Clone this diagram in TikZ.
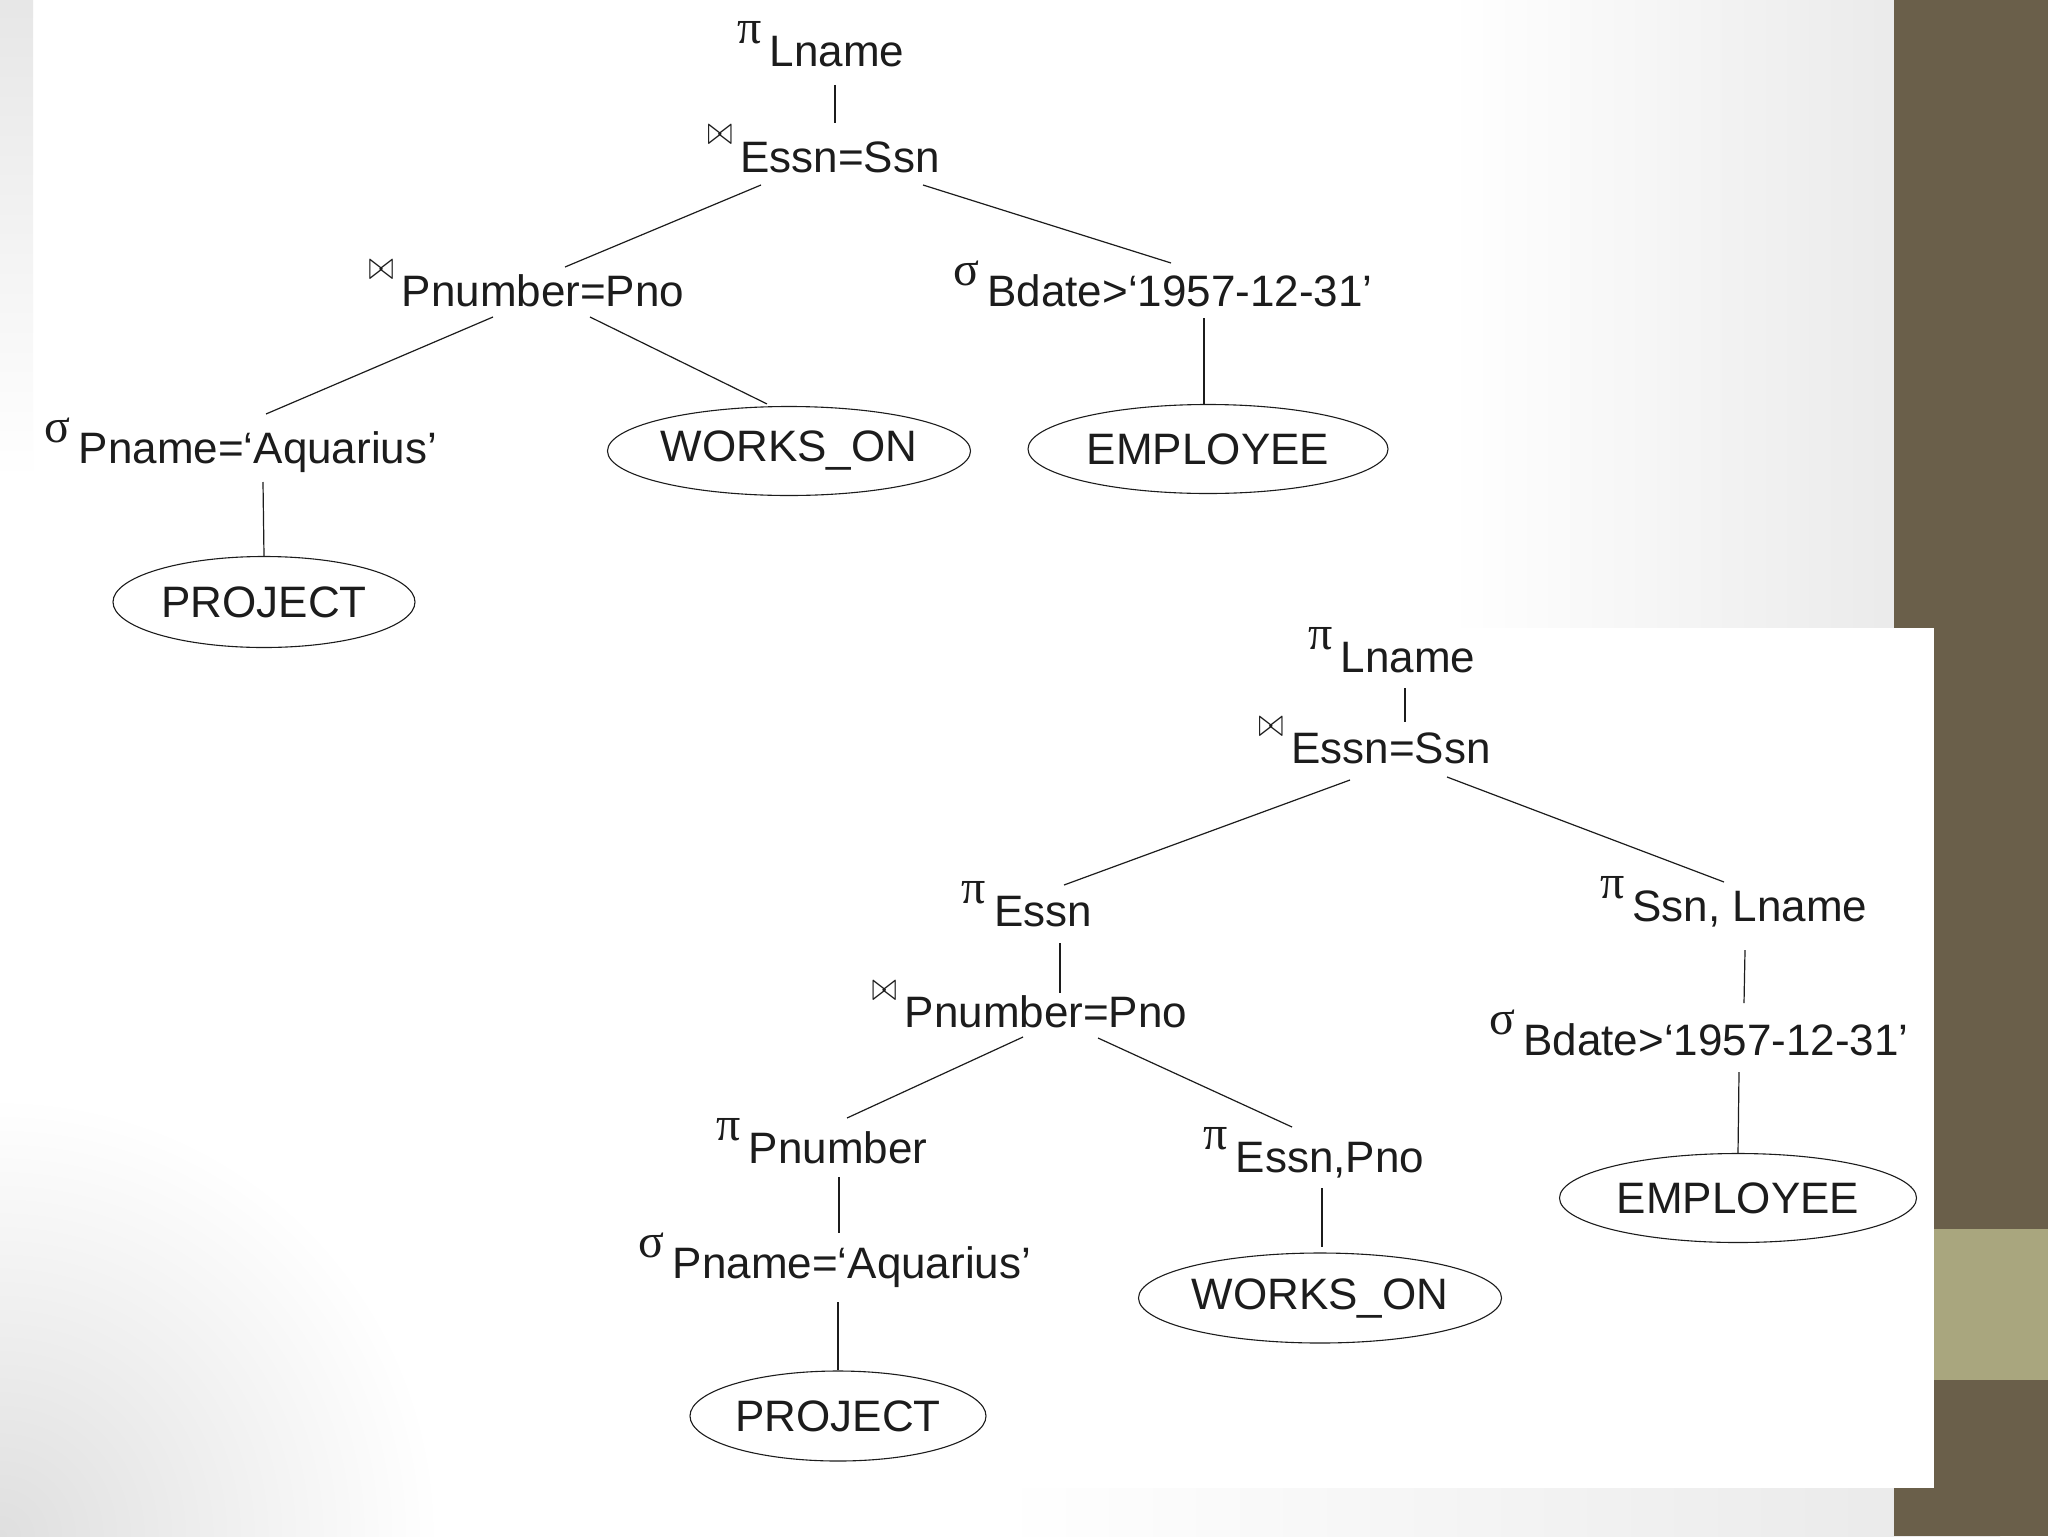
\documentclass[tikz,border=0pt]{standalone}
\usepackage{fontspec}
\usepackage{graphicx}
\setmainfont{Liberation Sans}
\newfontfamily\grk{Liberation Serif}
\usetikzlibrary{shapes.geometric,calc}
\definecolor{ink}{HTML}{1C1C1C}
\definecolor{bggray}{HTML}{DFDFDF}
\definecolor{bglight}{HTML}{E8E8E8}
\definecolor{olivebar}{HTML}{6A5F4A}
\definecolor{khakibar}{HTML}{A9A67E}
\newcommand\opP{\llap{\raisebox{11.5pt}{\grk\fontsize{24}{24}\selectfont π}\hspace{4pt}}}
\newcommand\opS{\llap{\raisebox{10.5pt}{\grk\fontsize{24}{24}\selectfont σ}\hspace{4pt}}}
\newcommand\opJ{\llap{\raisebox{13.5pt}{\resizebox*{12.5pt}{9.5pt}{$\bowtie$}}\hspace{4pt}}}
\begin{document}
\begin{tikzpicture}[x=0.5pt,y=-0.5pt,
  lbl/.style={anchor=base, inner sep=0pt, font=\fontsize{22}{26}\selectfont, text=ink},
  rel/.style={ellipse, draw=ink, line width=0.55pt, inner sep=0pt, fill=white,
    font=\fontsize{22}{26}\selectfont, text=ink},
  edge/.style={draw=ink, line width=0.6pt}]
\useasboundingbox (0,0) rectangle (2048,1536);
% background
\fill[white] (0,0) rectangle (1894,1536);
\shade[top color=bggray, bottom color=white] (0,-150) rectangle (33,480);
\shade[left color=white, right color=bglight] (1450,0) rectangle (1950,628);
\begin{scope}
  \clip (0,0) rectangle (1894,1536);
  \shade[inner color=bggray, outer color=white] (0,1536) circle (440);
\end{scope}
\shade[left color=white, right color=bglight] (1000,1488) rectangle (2000,1536);
\fill[olivebar] (1894,0) rectangle (2048,1536);
\fill[khakibar] (1894,1229) rectangle (2048,1380);
\fill[white] (650,628) rectangle (1934,1488);

% ---------- top tree ----------
\node[lbl] (r1) at (837,67) {\opP Lname};
\node[lbl] (j1) at (840,172) {\opJ Essn=Ssn};
\node[lbl] (j2) at (543,306) {\opJ Pnumber=Pno};
\node[lbl] (s1) at (1180,306) {\opS Bdate>‘1957-12-31’};
\node[lbl] (s2) at (258,463) {\opS Pname=‘Aquarius’};
\node[rel, minimum width=179.5pt, minimum height=44.5pt] (wo1) at (789,451) {WORKS\_ON};
\node[rel, minimum width=180pt, minimum height=44.5pt] (em1) at (1208,449) {EMPLOYEE};
\node[rel, minimum width=151pt, minimum height=45.5pt] (pr1) at (264,602) {PROJECT};

\draw[edge] ($(r1.base)+(-2,18)$) -- ($(j1.base)+(-5,-49)$);
\draw[edge] ($(j1.base)+(-79,13)$) -- ($(j2.base)+(22,-39)$);
\draw[edge] ($(j1.base)+(83,13)$) -- ($(s1.base)+(-9,-43)$);
\draw[edge] ($(j2.base)+(-50,11)$) -- ($(s2.base)+(8,-49)$);
\draw[edge] ($(j2.base)+(47,11)$) -- ($(wo1.north)+(-22,-2)$);
\draw[edge] ($(s1.base)+(24,12)$) -- ($(em1.north)+(-4,0)$);
\draw[edge] ($(s2.base)+(5,19)$) -- (pr1.north);

% ---------- bottom tree ----------
\node[lbl] (r2) at (1408,672) {\opP Lname};
\node[lbl] (j3) at (1391,763) {\opJ Essn=Ssn};
\node[lbl] (p1) at (1043,926) {\opP Essn};
\node[lbl] (p2) at (1750,921) {\opP Ssn, Lname};
\node[lbl] (j4) at (1046,1027) {\opJ Pnumber=Pno};
\node[lbl] (s3) at (1716,1055) {\opS Bdate>‘1957-12-31’};
\node[lbl] (p3) at (838,1163) {\opP Pnumber};
\node[lbl] (p4) at (1330,1172) {\opP Essn,Pno};
\node[lbl] (s4) at (852,1278) {\opS Pname=‘Aquarius’};
\node[rel, minimum width=178.5pt, minimum height=44.5pt] (em2) at (1738,1198) {EMPLOYEE};
\node[rel, minimum width=177.5pt, minimum height=45pt] (wo2) at (1320,1298) {WORKS\_ON};
\node[rel, minimum width=148pt, minimum height=45pt] (pr2) at (838,1416) {PROJECT};

\draw[edge] ($(r2.base)+(-3,16)$) -- ($(j3.base)+(14,-41)$);
\draw[edge] ($(j3.base)+(-41,17)$) -- ($(p1.base)+(21,-41)$);
\draw[edge] ($(j3.base)+(56,14)$) -- ($(p2.base)+(-26,-39)$);
\draw[edge] ($(p1.base)+(17,17)$) -- ($(j4.base)+(14,-34)$);
\draw[edge] ($(p2.base)+(-5,29)$) -- ($(s3.base)+(28,-52)$);
\draw[edge] ($(j4.base)+(-23,10)$) -- ($(p3.base)+(9,-45)$);
\draw[edge] ($(j4.base)+(52,11)$) -- ($(p4.base)+(-38,-45)$);
\draw[edge] ($(s3.base)+(23,17)$) -- (em2.north);
\draw[edge] ($(p3.base)+(1,14)$) -- ($(s4.base)+(-13,-45)$);
\draw[edge] ($(p4.base)+(-8,16)$) -- ($(wo2.north)+(2,-5)$);
\draw[edge] ($(s4.base)+(-14,24)$) -- (pr2.north);
\end{tikzpicture}
\end{document}
